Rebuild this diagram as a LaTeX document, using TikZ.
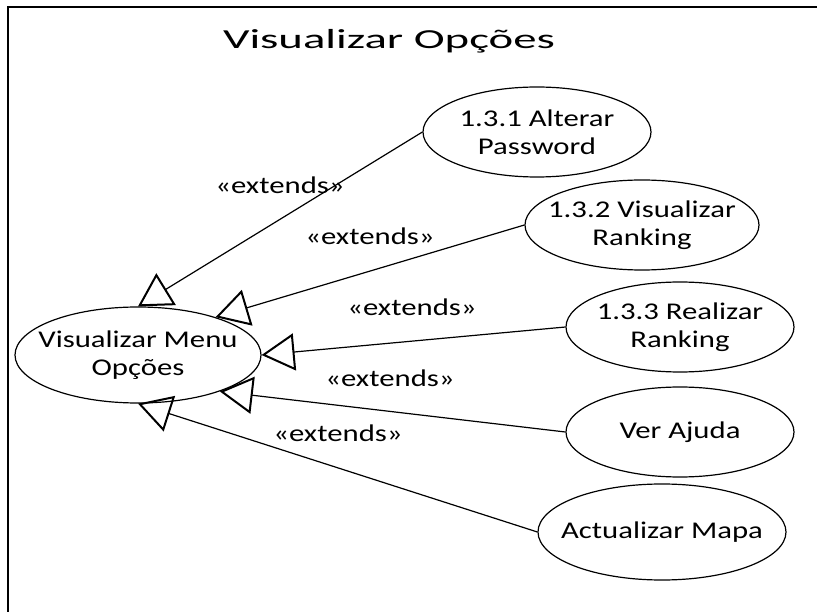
\documentclass[tikz,border=0pt]{standalone}
\usepackage{fontspec}
\setmainfont{Carlito}[FakeStretch=1.28]
\newfontfamily\titlefont{Carlito}[FakeStretch=1.7]
\usetikzlibrary{shapes.geometric, arrows.meta}

\begin{document}
\begin{tikzpicture}[
    x=1pt, y=-1pt,
    usecase/.style={ellipse, draw, line width=1.2pt, inner sep=0pt, minimum width=228pt, minimum height=90pt},
    uctext/.style={font=\fontsize{24}{28}\selectfont, align=center},
    extarrow/.style={-{Triangle[open, length=33pt, width=37pt, line width=2pt]}, line width=1.2pt},
    stereo/.style={font=\fontsize{24}{28}\selectfont, anchor=base}
]
\useasboundingbox (0,0) rectangle (817,612);

% Frame
\draw[line width=1.6pt] (8,612) -- (8,7) -- (817,7);

% Title
\node[font=\titlefont\fontsize{27.5}{33}\selectfont, anchor=base] (titulo) at (389,49) {Visualizar Opções};

% Nodes
\node[usecase, minimum width=246pt, minimum height=96pt, label={[uctext]center:{Visualizar Menu\\Opções}}] (menu_opcoes) at (138,355) {};

\node[usecase, label={[uctext]center:{1.3.1 Alterar\\Password}}] (alterar_pw) at (537,132) {};
\node[usecase, minimum width=234pt, label={[uctext]center:{1.3.2 Visualizar\\Ranking}}] (vis_ranking) at (642,225) {};
\node[usecase, label={[uctext]center:{1.3.3 Realizar\\Ranking}}] (real_ranking) at (680,327) {};
\node[usecase, label={[uctext]center:{Ver Ajuda}}] (ver_ajuda) at (680,432) {};
\node[usecase, minimum width=248pt, minimum height=96pt, label={[uctext]center:{Actualizar Mapa}}] (act_mapa) at (662,532) {};

% Arrows
\draw[extarrow] (alterar_pw.west) -- (menu_opcoes.north);
\draw[extarrow] (vis_ranking.west) -- (menu_opcoes.26);
\draw[extarrow] (real_ranking.west) -- (menu_opcoes.east);
\draw[extarrow] (ver_ajuda.west) -- (menu_opcoes.-24);
\draw[extarrow] (act_mapa.west) -- (menu_opcoes.south);

% Stereotypes
\node[stereo] (ext_alterar) at (280,194) {«extends»};
\node[stereo] (ext_vis) at (370,245) {«extends»};
\node[stereo] (ext_real) at (412,316) {«extends»};
\node[stereo] (ext_ajuda) at (390,386) {«extends»};
\node[stereo] (ext_mapa) at (338,441) {«extends»};

\end{tikzpicture}
\end{document}
